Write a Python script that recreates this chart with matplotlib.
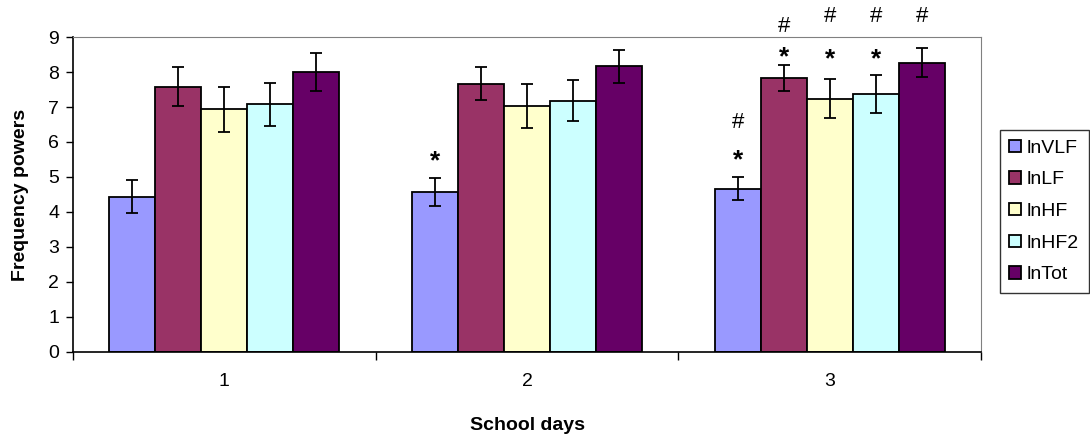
import numpy as np
import matplotlib.pyplot as plt

plt.rcParams['font.family'] = ['Liberation Sans', 'DejaVu Sans']

# Frequency powers per school day (mean and error)
days = ['1', '2', '3']
series = ['lnVLF', 'lnLF', 'lnHF', 'lnHF2', 'lnTot']
colors = ['#9999FF', '#993366', '#FFFFCC', '#CCFFFF', '#660066']

means = {
    'lnVLF': [4.44, 4.58, 4.67],
    'lnLF': [7.58, 7.67, 7.82],
    'lnHF': [6.93, 7.03, 7.24],
    'lnHF2': [7.08, 7.18, 7.37],
    'lnTot': [8.01, 8.17, 8.27],
}
errs = {
    'lnVLF': [0.46, 0.40, 0.33],
    'lnLF': [0.55, 0.48, 0.37],
    'lnHF': [0.64, 0.62, 0.56],
    'lnHF2': [0.62, 0.58, 0.54],
    'lnTot': [0.54, 0.47, 0.42],
}

# significance marks: (series, day index, symbol, y)
marks = [
    ('lnVLF', 1, '*', 5.45),
    ('lnVLF', 2, '*', 5.48),
    ('lnVLF', 2, '#', 6.57),
    ('lnLF', 2, '*', 8.43),
    ('lnLF', 2, '#', 9.29),
    ('lnHF', 2, '*', 8.35),
    ('lnHF', 2, '#', 9.58),
    ('lnHF2', 2, '*', 8.35),
    ('lnHF2', 2, '#', 9.58),
    ('lnTot', 2, '#', 9.58),
]

fig = plt.figure(figsize=(10.9, 4.36), dpi=100)
ax = fig.add_axes([0.067, 0.193, 0.833, 0.722])

x = np.arange(len(days))
w = 0.152
for i, s in enumerate(series):
    pos = x + (i - 2) * w
    ax.bar(pos, means[s], w, color=colors[i], edgecolor='black', linewidth=1.3,
           label=s, zorder=2)
    ax.errorbar(pos, means[s], yerr=errs[s], fmt='none', ecolor='black',
                elinewidth=1.3, capsize=4.5, capthick=1.3, zorder=3)

for s, d, sym, y in marks:
    px = x[d] + (series.index(s) - 2) * w
    if sym == '*':
        ax.text(px, y, sym, ha='center', va='center', fontsize=19,
                fontweight='bold', clip_on=False)
    else:
        ax.text(px, y, sym, ha='center', va='center', fontsize=16,
                clip_on=False)

ax.set_xlim(-0.5, 2.5)
ax.set_ylim(0, 9)
ax.set_yticks(range(10))
ax.set_xticks(x)
ax.set_xticklabels(days)
ax.set_xticks([-0.5, 0.5, 1.5, 2.5], minor=True)
ax.tick_params(axis='x', which='major', length=0, labelsize=14, pad=15)
ax.tick_params(axis='x', which='minor', length=6, width=1, direction='out')
ax.tick_params(axis='y', labelsize=14, length=5, width=1, direction='out', pad=5)

for side in ['top', 'right']:
    ax.spines[side].set_color('#808080')
for side in ['left', 'bottom']:
    ax.spines[side].set_color('black')
    ax.spines[side].set_linewidth(1.2)

ax.set_xlabel('School days', fontsize=14, fontweight='bold', labelpad=20)
ax.set_ylabel('Frequency powers', fontsize=14, fontweight='bold', labelpad=14)

handles, labels = ax.get_legend_handles_labels()
leg = fig.legend(handles, labels, loc='center left', bbox_to_anchor=(0.917, 0.515),
                 fontsize=14, frameon=True, fancybox=False, edgecolor='black',
                 handlelength=0.6, handleheight=0.6, handletextpad=0.3,
                 labelspacing=0.75, borderpad=0.5, borderaxespad=0)
leg.get_frame().set_linewidth(1)

fig.savefig('out.png', dpi=100)
